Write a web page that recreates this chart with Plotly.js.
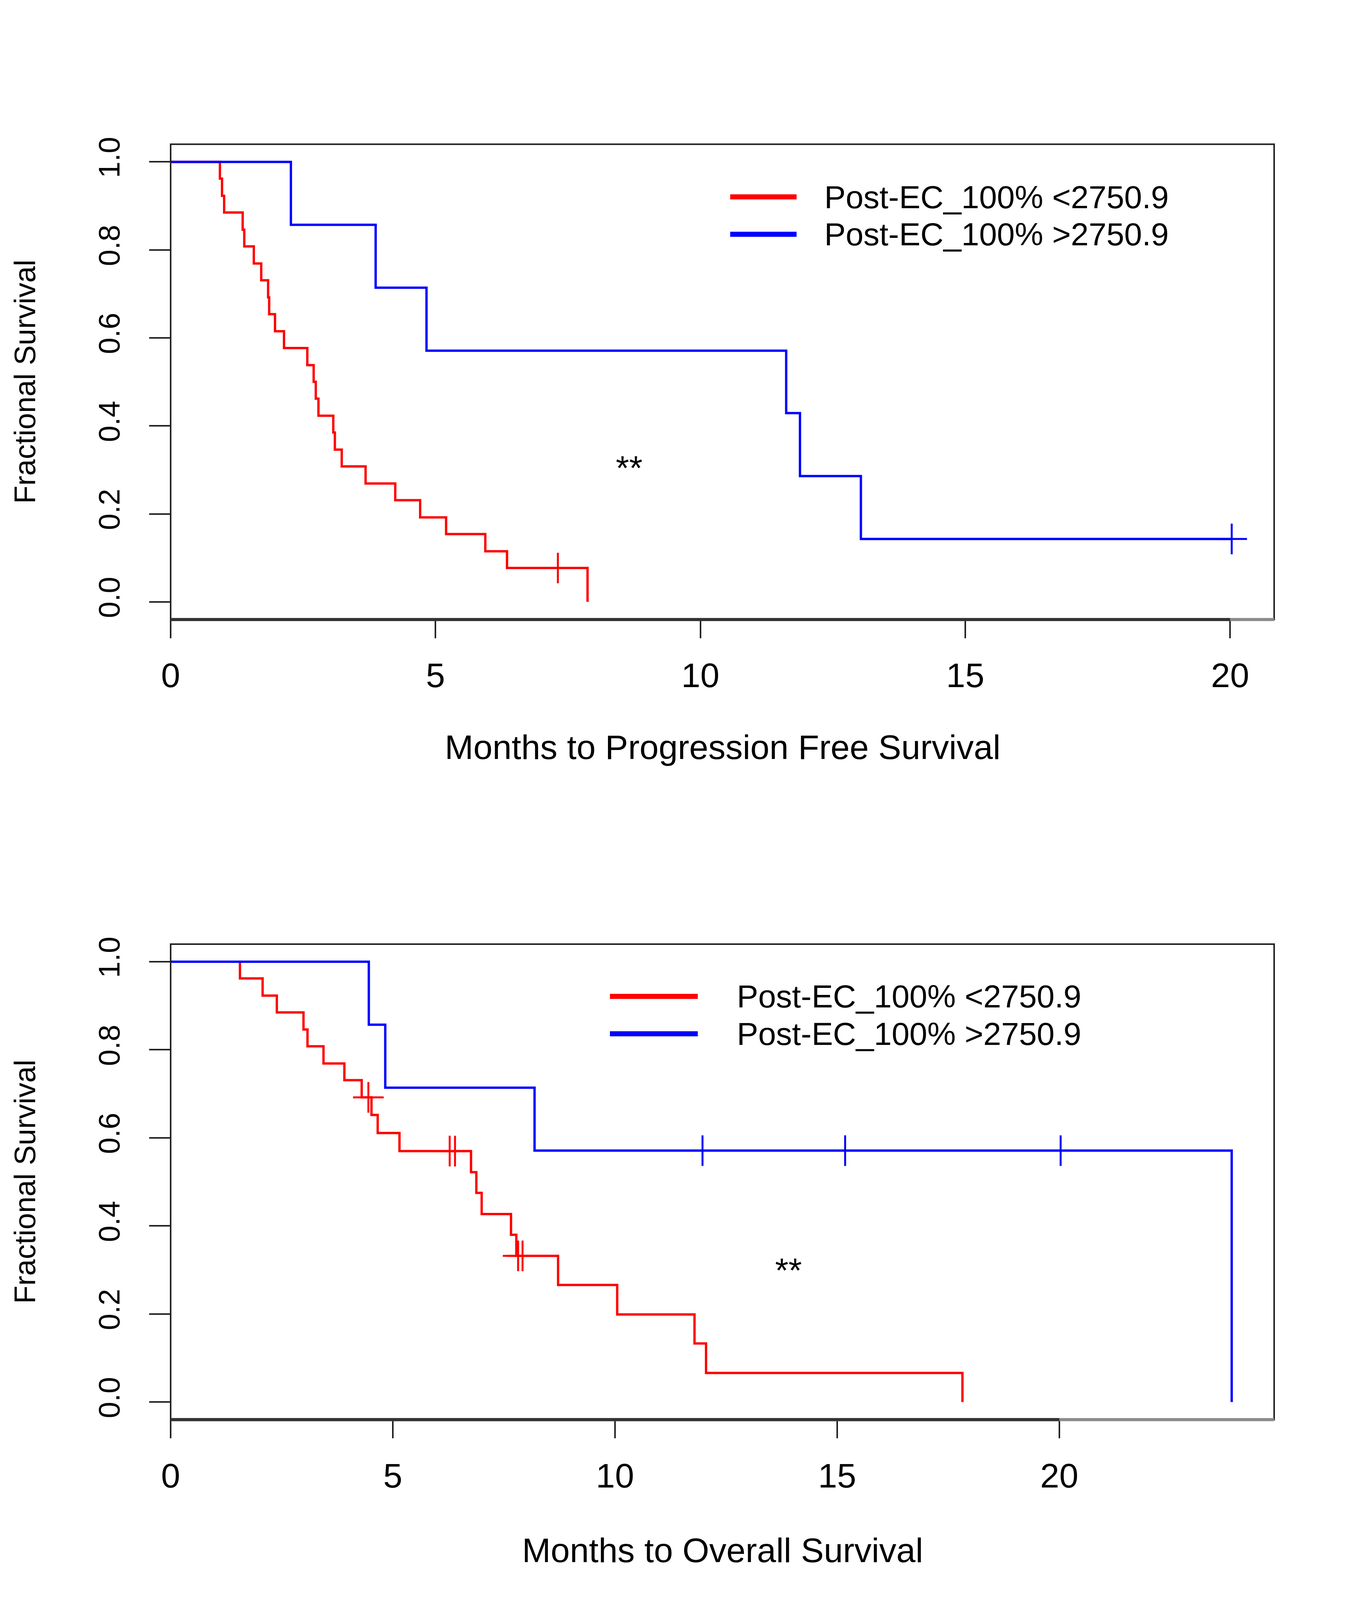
<!DOCTYPE html>
<html>
<head>
<meta charset="utf-8">
<script src="https://cdn.plot.ly/plotly-3.0.1.min.js"></script>
<style>html,body{margin:0;padding:0;background:#fff;overflow:hidden;}#chart{width:3488px;}</style>
</head>
<body>
<div id="chart"></div>
<script>
// ---------- DATA ----------
var legendLabels = ["Post-EC_100% <2750.9", "Post-EC_100% >2750.9"];
var xTitles = ["Months to Progression Free Survival", "Months to Overall Survival"];
var yTitle = "Fractional Survival";
var sigLabel = "**";
var xTickVals = [0, 5, 10, 15, 20];
var yTickVals = [0, 0.2, 0.4, 0.6, 0.8, 1.0];

// Panel 1: progression-free survival (Kaplan-Meier step points)
var pfsLowTime = [0, 0.93, 0.97, 1.01, 1.36, 1.39, 1.57, 1.71, 1.84, 1.86, 1.97, 2.14, 2.58, 2.70, 2.74, 2.79, 3.07, 3.10, 3.23, 3.68, 4.24, 4.71, 5.20, 5.94, 6.35, 7.87];
var pfsLowSurv = [1, 0.962, 0.923, 0.885, 0.846, 0.808, 0.769, 0.731, 0.692, 0.654, 0.615, 0.577, 0.538, 0.500, 0.462, 0.423, 0.385, 0.346, 0.308, 0.269, 0.231, 0.192, 0.154, 0.115, 0.077, 0];
var pfsLowCensTime = [7.31];
var pfsLowCensSurv = [0.077];

var pfsHighTime = [0, 2.27, 3.87, 4.83, 11.62, 11.88, 13.03, 20.03];
var pfsHighSurv = [1, 0.857, 0.714, 0.571, 0.429, 0.286, 0.143, 0.143];
var pfsHighCensTime = [20.03];
var pfsHighCensSurv = [0.143];

// Panel 2: overall survival
var osLowTime = [0, 1.56, 2.07, 2.39, 2.99, 3.08, 3.44, 3.91, 4.30, 4.52, 4.66, 5.15, 6.76, 6.88, 7.00, 7.66, 7.78, 8.72, 10.05, 11.79, 12.05, 17.82];
var osLowSurv = [1, 0.962, 0.923, 0.885, 0.846, 0.808, 0.769, 0.731, 0.692, 0.652, 0.611, 0.570, 0.522, 0.475, 0.427, 0.380, 0.332, 0.266, 0.199, 0.133, 0.066, 0];
var osLowCensTime = [4.45, 6.28, 6.40, 7.82, 7.92];
var osLowCensSurv = [0.692, 0.570, 0.570, 0.332, 0.332];

var osHighTime = [0, 4.46, 4.83, 8.19, 23.88];
var osHighSurv = [1, 0.857, 0.714, 0.571, 0];
var osHighCensTime = [11.97, 15.18, 20.03];
var osHighCensSurv = [0.571, 0.571, 0.571];

// ---------- STYLE ----------
var RED = "#ff0000", BLUE = "#0000ff";
var FONT = "Liberation Sans, Arial, Helvetica, sans-serif";
var FS = 88;      // horizontal texts
var FSL = 82;     // legend texts
var FSV = 76;     // rotated (vertical) texts
var W = 3488;
var REF_H = 4835;                         // reference height; positions kept as fractions of it
var H = Math.min(REF_H, window.innerHeight || REF_H);
document.getElementById("chart").style.height = H + "px";
var ky = H / REF_H;

function py(refY) { return 1 - refY / REF_H; }  // reference pixel row -> paper fraction

var xDom = [437 / W, 3263 / W];
var yDomTop = [py(1872), py(436)];
var yDomBot = [py(4290), py(2853)];

function stepTrace(x, y, color, xa, ya) {
  return {x: x, y: y, type: "scatter", mode: "lines", line: {shape: "hv", color: color, width: 6},
          xaxis: xa, yaxis: ya, showlegend: false, hoverinfo: "skip"};
}
function censTrace(x, y, color, xa, ya) {
  return {x: x, y: y, type: "scatter", mode: "markers",
          marker: {symbol: "cross-thin", size: 56, color: color, line: {color: color, width: 5}},
          xaxis: xa, yaxis: ya, showlegend: false, hoverinfo: "skip"};
}

var traces = [
  stepTrace(pfsLowTime, pfsLowSurv, RED, "x", "y"),
  censTrace(pfsLowCensTime, pfsLowCensSurv, RED, "x", "y"),
  stepTrace(pfsHighTime, pfsHighSurv, BLUE, "x", "y"),
  censTrace(pfsHighCensTime, pfsHighCensSurv, BLUE, "x", "y"),
  stepTrace(osLowTime, osLowSurv, RED, "x2", "y2"),
  censTrace(osLowCensTime, osLowCensSurv, RED, "x2", "y2"),
  stepTrace(osHighTime, osHighSurv, BLUE, "x2", "y2"),
  censTrace(osHighCensTime, osHighCensSurv, BLUE, "x2", "y2")
];

var maxTop = Math.max(Math.max.apply(null, pfsLowTime), Math.max.apply(null, pfsHighTime));
var maxBot = Math.max(Math.max.apply(null, osLowTime), Math.max.apply(null, osHighTime));

function xAxis(dom, maxT, anchor) {
  return {domain: dom, anchor: anchor, range: [0, maxT * 1.04], showgrid: false, zeroline: false, showline: false,
          ticks: "outside", ticklen: Math.round(55 * ky), tickwidth: 4, tickcolor: "#222",
          tickmode: "array", tickvals: xTickVals, ticktext: xTickVals.map(String),
          tickfont: {family: FONT, size: FS, color: "#000"}, ticklabelstandoff: 20, fixedrange: true};
}
function yAxis(dom, anchor) {
  return {domain: dom, anchor: anchor, range: [-0.04, 1.04], showgrid: false, zeroline: false, showline: false,
          ticks: "outside", ticklen: 54, tickwidth: 4, tickcolor: "#222",
          tickmode: "array", tickvals: yTickVals, ticktext: yTickVals.map(function (v) { return v.toFixed(1); }),
          tickangle: -90, tickfont: {family: FONT, size: FSV, color: "#000"}, ticklabelstandoff: 46, fixedrange: true};
}

function boxShapes(xr, yr) {
  return [
    {type: "rect", xref: xr + " domain", yref: yr + " domain", x0: 0, x1: 1, y0: 0, y1: 1, line: {color: "#222", width: 4}},
    {type: "line", xref: xr + " domain", yref: yr + " domain", x0: 0, x1: 1, y0: 0, y1: 0, line: {color: "#8c8c8c", width: 8}},
    {type: "line", xref: xr, yref: yr + " domain", x0: 0, x1: 20, y0: 0, y1: 0, line: {color: "#333", width: 8}}
  ];
}

function legendParts(x0, x1, xText, yRed, yBlue) {
  var s = [
    {type: "line", xref: "paper", yref: "paper", x0: x0 / W, x1: x1 / W, y0: py(yRed), y1: py(yRed), line: {color: RED, width: 13}},
    {type: "line", xref: "paper", yref: "paper", x0: x0 / W, x1: x1 / W, y0: py(yBlue), y1: py(yBlue), line: {color: BLUE, width: 13}}
  ];
  var a = [
    {xref: "paper", yref: "paper", x: xText / W, y: py(yRed), xanchor: "left", yanchor: "middle", showarrow: false,
     borderpad: 0, text: legendLabels[0], font: {family: FONT, size: FSL, color: "#000"}},
    {xref: "paper", yref: "paper", x: xText / W, y: py(yBlue), xanchor: "left", yanchor: "middle", showarrow: false,
     borderpad: 0, text: legendLabels[1], font: {family: FONT, size: FSL, color: "#000"}}
  ];
  return {shapes: s, annotations: a};
}

var legTop = legendParts(1870, 2040, 2110, 595, 708);
var legBot = legendParts(1562, 1787, 1886, 3011, 3124);

var annotations = [
  {xref: "paper", yref: "paper", x: (xDom[0] + xDom[1]) / 2, y: py(2258), xanchor: "center", yanchor: "middle", showarrow: false,
   text: xTitles[0], font: {family: FONT, size: FS, color: "#000"}},
  {xref: "paper", yref: "paper", x: (xDom[0] + xDom[1]) / 2, y: py(4684), xanchor: "center", yanchor: "middle", showarrow: false,
   text: xTitles[1], font: {family: FONT, size: FS, color: "#000"}},
  {xref: "paper", yref: "paper", x: 64 / W, y: (yDomTop[0] + yDomTop[1]) / 2, xanchor: "center", yanchor: "middle", showarrow: false,
   textangle: -90, text: yTitle, font: {family: FONT, size: FSV, color: "#000"}},
  {xref: "paper", yref: "paper", x: 64 / W, y: (yDomBot[0] + yDomBot[1]) / 2, xanchor: "center", yanchor: "middle", showarrow: false,
   textangle: -90, text: yTitle, font: {family: FONT, size: FSV, color: "#000"}},
  {xref: "x", yref: "y", x: 8.66, y: 0.305, xanchor: "center", yanchor: "middle", showarrow: false,
   text: sigLabel, font: {family: FONT, size: FS, color: "#000"}},
  {xref: "x2", yref: "y2", x: 13.91, y: 0.30, xanchor: "center", yanchor: "middle", showarrow: false,
   text: sigLabel, font: {family: FONT, size: FS, color: "#000"}}
].concat(legTop.annotations, legBot.annotations);

var layout = {
  width: W, height: H, autosize: false,
  margin: {l: 0, r: 0, t: 0, b: 0, pad: 0},
  paper_bgcolor: "#fff", plot_bgcolor: "#fff",
  showlegend: false,
  xaxis: xAxis(xDom, maxTop, "y"),
  yaxis: yAxis(yDomTop, "x"),
  xaxis2: xAxis(xDom, maxBot, "y2"),
  yaxis2: yAxis(yDomBot, "x2"),
  shapes: boxShapes("x", "y").concat(boxShapes("x2", "y2"), legTop.shapes, legBot.shapes),
  annotations: annotations
};

Plotly.newPlot("chart", traces, layout, {staticPlot: true, displayModeBar: false});
</script>
</body>
</html>
